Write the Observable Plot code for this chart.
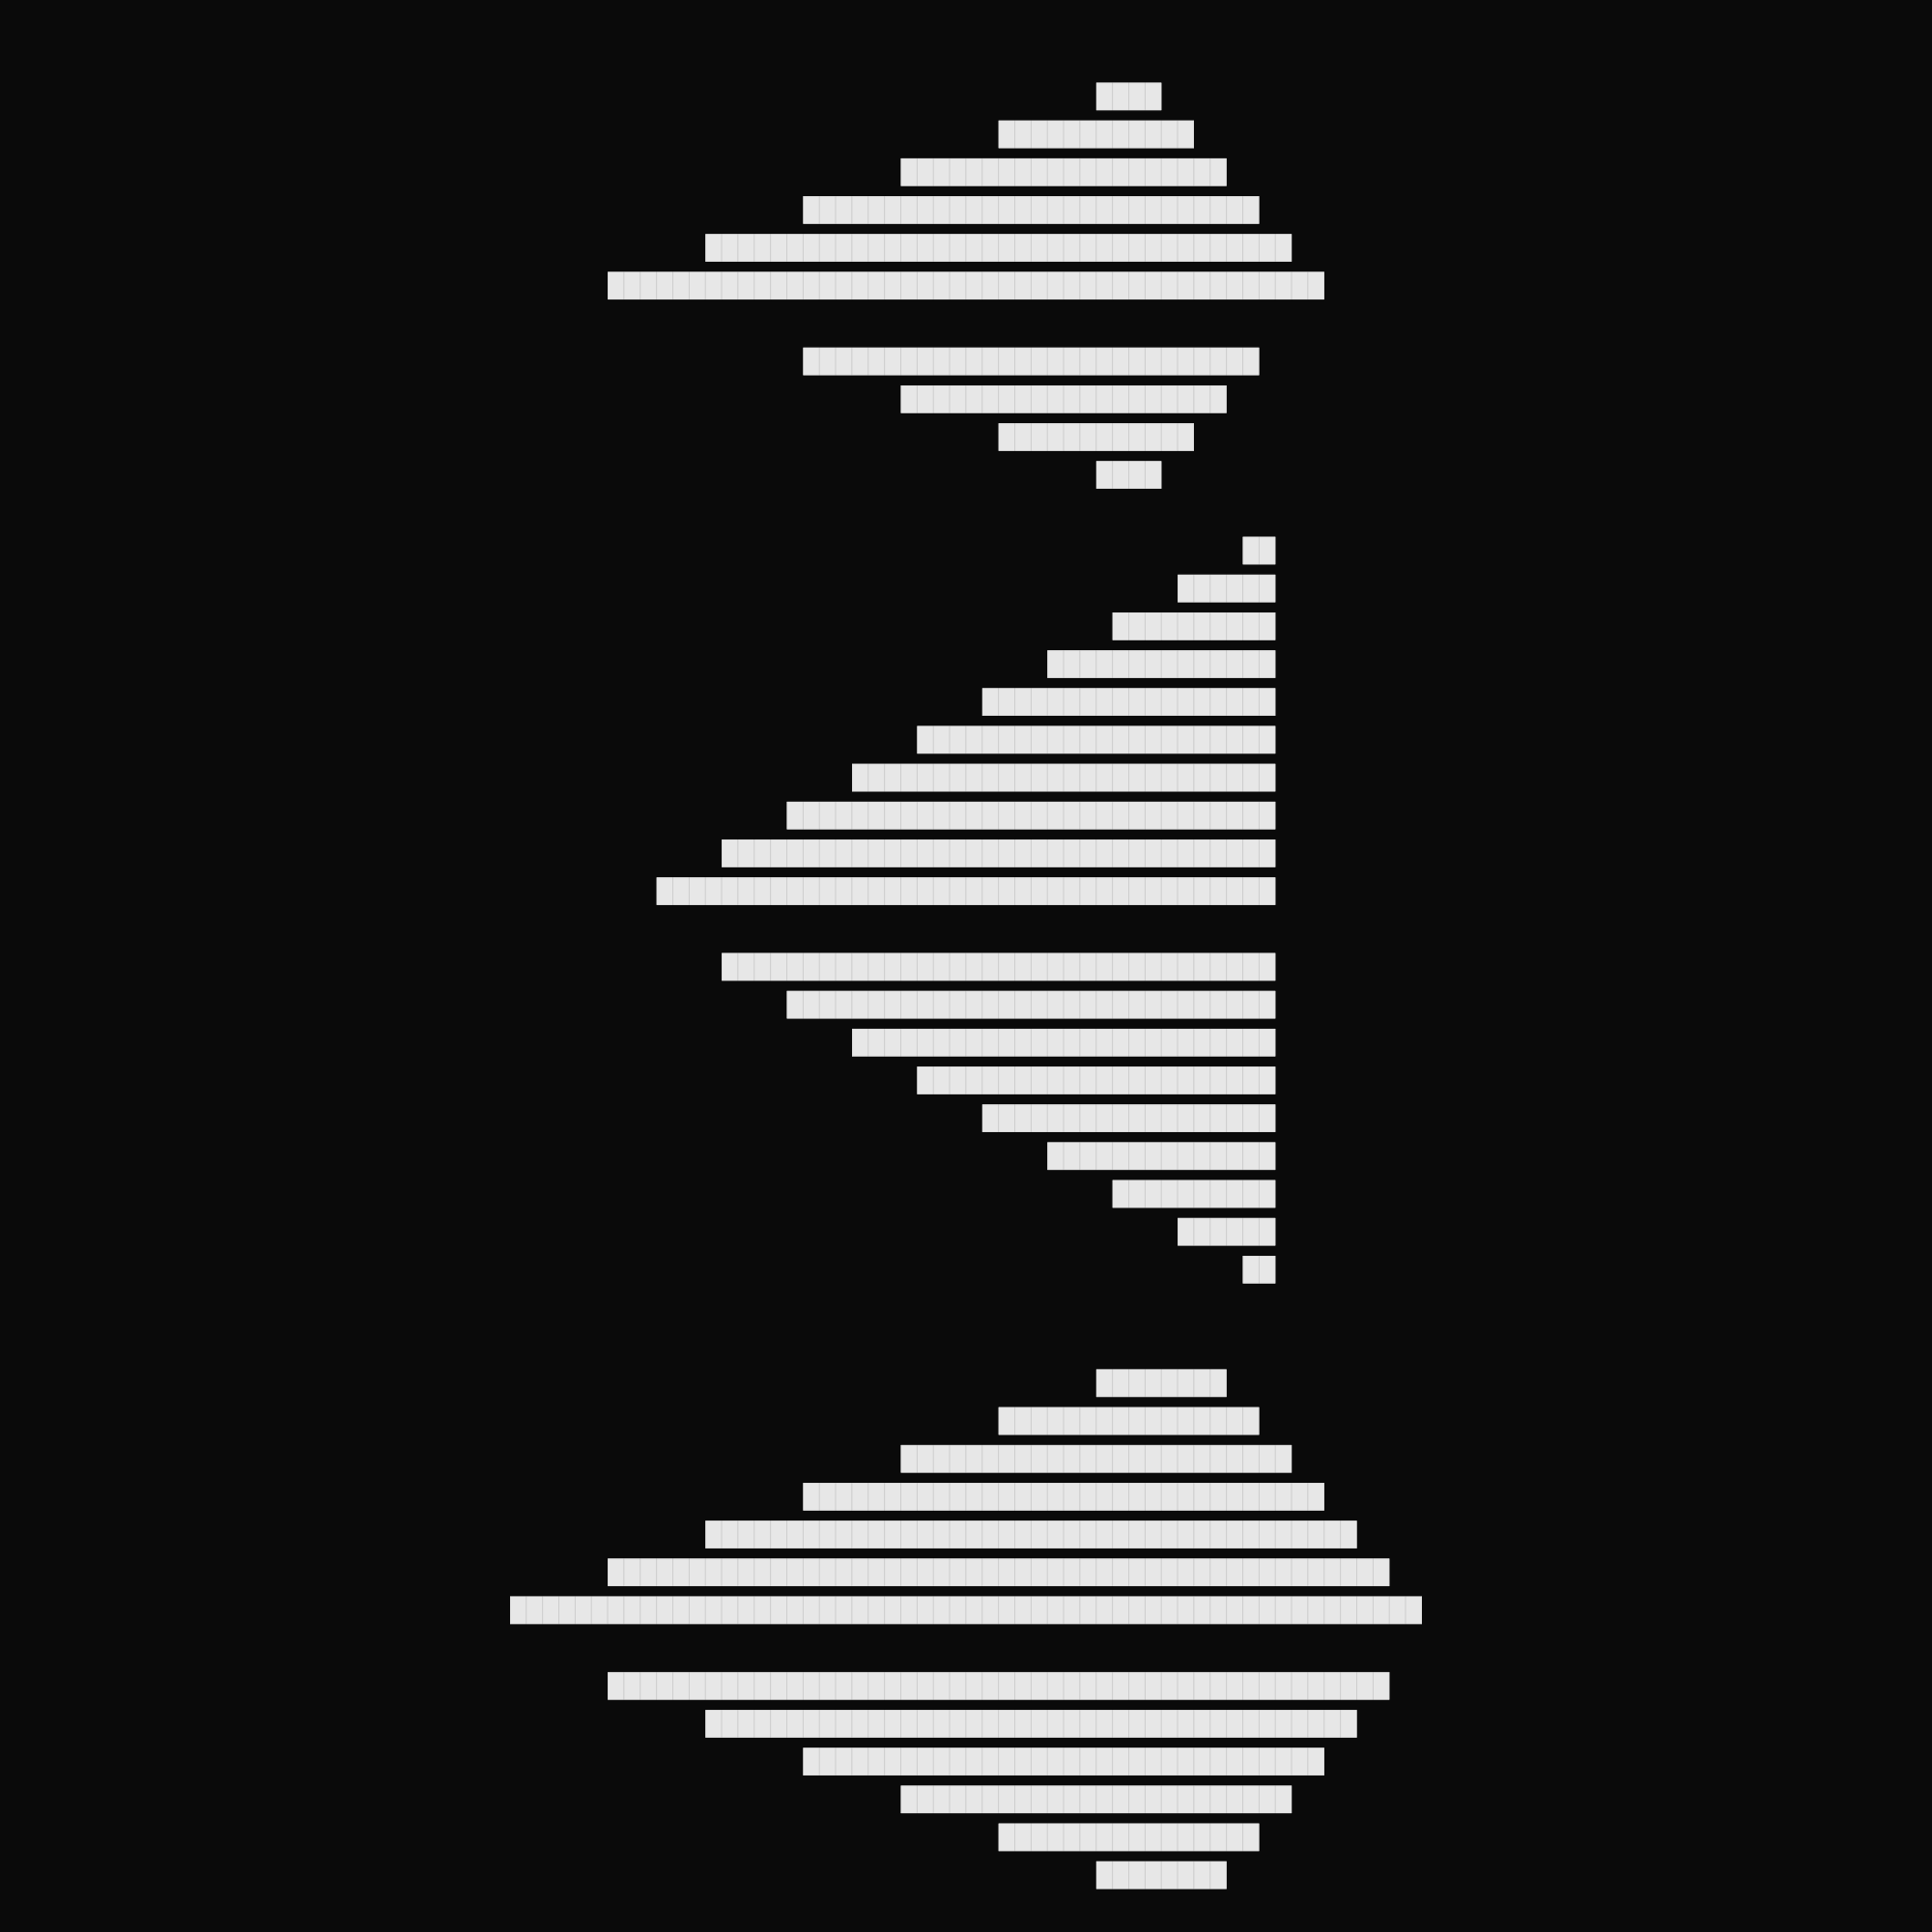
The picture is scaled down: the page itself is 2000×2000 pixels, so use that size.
<!DOCTYPE html>
<html>
<head>
<meta charset="utf-8">
<script src="https://cdn.jsdelivr.net/npm/d3@7"></script>
<script src="https://cdn.jsdelivr.net/npm/@observablehq/plot@0.6"></script>
<style>
  html, body { margin: 0; padding: 0; background: #0a0a0a; }
  #chart svg { display: block; background: #0a0a0a; }
</style>
</head>
<body>
<div id="chart"></div>
<script>
// Row labels (48 band rows, some left empty as spacers)
const rowLabels = [
  "a1","a2","a3","a4","a5","a6","a7","a8","a9","a10","a11","a12",
  "b1","b2","b3","b4","b5","b6","b7","b8","b9","b10","b11",
  "b12","b13","b14","b15","b16","b17","b18","b19","b20","b21","b22",
  "c1","c2","c3","c4","c5","c6","c7","c8","c9","c10","c11","c12","c13","c14"
];
// Start of each bar (in cell units); null = empty row
const rowStart = [
  -11, -17, -23, -29, -35, -41, null, -29, -23, -17, -11, null,
  -2, -6, -10, -14, -18, -22, -26, -30, -34, -38, null,
  -34, -30, -26, -22, -18, -14, -10, -6, -2, null, null,
  -11, -17, -23, -29, -35, -41, -47, null, -41, -35, -29, -23, -17, -11
];
// End of each bar (in cell units); null = empty row
const rowEnd = [
  -7, -5, -3, -1, 1, 3, null, -1, -3, -5, -7, null,
  0, 0, 0, 0, 0, 0, 0, 0, 0, 0, null,
  0, 0, 0, 0, 0, 0, 0, 0, 0, null, null,
  -3, -1, 1, 3, 5, 7, 9, null, 7, 5, 3, 1, -1, -3
];

// Whole bars and their unit cells
const bars = [];
const cells = [];
rowLabels.forEach((row, i) => {
  if (rowStart[i] == null) return;
  bars.push({row, x1: rowStart[i], x2: rowEnd[i]});
  for (let v = rowStart[i]; v < rowEnd[i]; v++) cells.push({row, x1: v, x2: v + 1});
});

const chart = Plot.plot({
  width: 2000,
  height: 2000,
  marginLeft: 528,
  marginRight: 528,
  marginTop: 75,
  marginBottom: 34,
  style: {background: "#0a0a0a"},
  x: {axis: null, domain: [d3.min(rowStart), d3.max(rowEnd)]},
  y: {axis: null, type: "band", domain: rowLabels, paddingInner: 0.27, paddingOuter: 0.27, round: false},
  marks: [
    Plot.barX(bars, {x1: "x1", x2: "x2", y: "row", fill: "#e7e7e7"}),
    Plot.barX(cells, {
      x1: "x1",
      x2: "x2",
      y: "row",
      fill: "#e7e7e7",
      stroke: "#0a0a0a",
      strokeOpacity: 0.08,
      strokeWidth: 1
    })
  ]
});
document.getElementById("chart").appendChild(chart);
</script>
</body>
</html>
